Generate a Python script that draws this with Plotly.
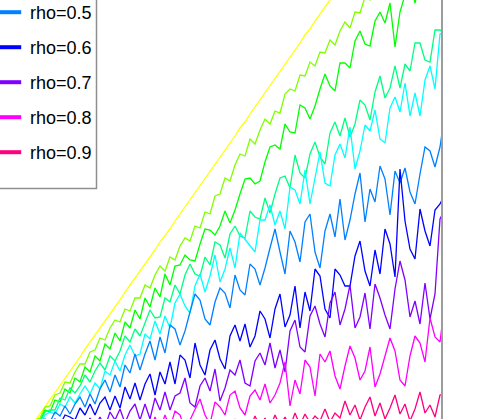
"""Correlated random walks for rho = 0.0 ... 0.9 (cropped view, Plotly)."""

import plotly.graph_objects as go

# Step index shared by every walk (one point per step).
STEPS = list(range(84))

RHO = ["rho=0", "rho=0.1", "rho=0.2", "rho=0.3", "rho=0.4",
       "rho=0.5", "rho=0.6", "rho=0.7", "rho=0.8", "rho=0.9"]

# hsv colormap, one colour per rho
COLOURS = ["#ffff00", "#80ff00", "#00ff00", "#00ff80", "#00ffff",
           "#0080ff", "#0000ff", "#8000ff", "#ff00ff", "#ff0080"]

# Walk heights, one list per rho.
WALK_00 = [-9, -2, 6, 13, 19, 27, 34, 41, 48, 55, 62, 70, 77, 83, 91, 98, 105,
           112, 119, 127, 134, 140, 148, 155, 162, 169, 177, 183, 190, 198, 205,
           212, 219, 226, 233, 241, 248, 254, 262, 269, 276, 283, 291, 297, 305,
           312, 319, 326, 333, 340, 348, 355, 362, 369, 376, 384, 390, 398, 405,
           412, 419, 426, 433]
WALK_01 = [-8, -1, 1, 12, 13, 24, 26, 37, 36, 47, 55, 55, 67, 69, 81, 79, 91, 99,
           97, 110, 108, 121, 121, 134, 131, 144, 153, 148, 162, 159, 173, 181,
           178, 193, 191, 207, 205, 223, 225, 241, 238, 254, 265, 263, 280, 275,
           289, 300, 295, 308, 306, 325, 330, 328, 344, 343, 357, 353, 367, 366,
           379, 374, 388, 397, 391, 407, 406, 422, 419, 435, 436, 442]
WALK_02 = [-10, -3, -2, 9, 7, 19, 17, 30, 26, 41, 37, 52, 47, 63, 58, 75, 70, 86,
           78, 97, 91, 109, 100, 121, 112, 131, 122, 145, 134, 153, 154, 164, 159,
           158, 175, 190, 189, 184, 193, 208, 196, 209, 225, 240, 241, 235, 238,
           257, 272, 274, 270, 295, 287, 286, 314, 311, 300, 313, 330, 345, 333,
           328, 356, 356, 351, 378, 388, 375, 373, 398, 407, 396, 416, 372, 407,
           424, 437, 416, 436]
WALK_03 = [-10, -4, -3, 7, 9, 9, 21, 19, 31, 26, 33, 44, 37, 48, 56, 49, 63, 58,
           68, 83, 77, 90, 83, 97, 109, 101, 102, 121, 117, 134, 125, 144, 155,
           145, 143, 162, 154, 177, 174, 161, 185, 193, 183, 181, 208, 202, 200,
           221, 206, 225, 241, 243, 231, 264, 246, 241, 265, 277, 262, 255, 286,
           297, 283, 301, 282, 295, 319, 314, 299, 327, 343, 321, 331, 353, 331,
           355, 348, 376, 376, 359, 357, 389, 389, 385]
WALK_04 = [-12, -6, -6, 4, 7, 5, 15, 12, 22, 16, 25, 33, 25, 36, 30, 48, 44, 58,
           48, 64, 74, 63, 65, 85, 80, 98, 85, 103, 91, 116, 125, 113, 106, 133,
           145, 127, 143, 164, 137, 150, 171, 151, 186, 180, 173, 167, 199, 199,
           214, 194, 208, 190, 232, 229, 215, 249, 215, 243, 267, 236, 233, 264,
           275, 261, 292, 250, 268, 294, 288, 309, 280, 276, 311, 322, 307, 336,
           303, 326, 303, 339, 353, 330, 385, 388]
WALK_05 = [-14, -8, -9, 0, -3, 7, 3, 13, 5, 15, 22, 12, 25, 15, 30, 39, 27, 44,
           32, 54, 46, 65, 49, 65, 78, 59, 82, 66, 94, 90, 74, 88, 107, 125, 119,
           100, 94, 117, 131, 126, 111, 144, 129, 124, 155, 150, 134, 151, 171,
           190, 167, 145, 188, 177, 157, 197, 205, 167, 151, 188, 205, 182, 220,
           179, 199, 225, 246, 197, 230, 217, 253, 240, 204, 248, 236, 251, 227,
           215, 245, 272, 268, 252, 272, 306]
WALK_06 = [-16, -12, -13, -6, -7, 0, -6, 4, 2, -1, 11, 4, 15, 4, 16, 22, 9, 23,
           11, 32, 20, 36, 19, 35, 45, 24, 47, 35, 57, 35, 64, 59, 41, 76, 54, 44,
           69, 79, 60, 50, 83, 94, 78, 95, 72, 83, 108, 100, 81, 110, 125, 92,
           104, 133, 91, 127, 108, 150, 143, 110, 101, 150, 144, 133, 133, 163,
           178, 148, 133, 169, 145, 190, 175, 142, 250, 198, 170, 160, 210, 188,
           173, 209, 215, 225]
WALK_07 = [-18, -15, -16, -11, -14, -8, -12, -6, -12, -6, -2, -10, 1, -7, 2, -8,
           7, -1, 10, -4, 8, 15, -1, 15, 0, 21, 9, 27, 9, 23, 26, 41, 16, 12, 33,
           41, 28, 50, 18, 31, 49, 44, 59, 36, 33, 58, 66, 54, 76, 51, 69, 47, 88,
           99, 72, 67, 103, 113, 95, 82, 116, 127, 94, 110, 134, 91, 102, 126, 90,
           135, 121, 104, 90, 130, 158, 139, 102, 118, 95, 136, 100, 125, 200, 210]
WALK_08 = [-20, -18, -21, -17, -20, -16, -20, -15, -19, -13, -18, -12, -19, -11,
           -17, -9, -18, -8, -16, -4, -15, -3, -14, -1, -12, 2, -11, 4, -9, 8, 4,
           -10, -1, 10, 20, 4, -5, 17, 12, 4, 24, 28, 11, 4, 23, 29, 19, 35, 16,
           24, 36, 57, 13, 39, 25, 59, 52, 23, 65, 57, 68, 43, 30, 53, 73, 61, 39,
           48, 72, 32, 45, 63, 81, 68, 39, 33, 63, 83, 76, 57, 101, 82, 77, 118]
WALK_09 = [-25, -23, -26, -22, -25, -21, -24, -20, -23, -19, -23, -18, -22, -17,
           -21, -16, -20, -15, -19, -13, -18, -12, -17, -11, -16, -10, -15, -8,
           -14, -9, -13, -6, -12, -4, -11, -5, -12, -2, -10, -4, -11, 0, -9, -2,
           -10, 3, -8, 1, -9, 4, -7, 2, -8, 6, -6, 5, -4, 3, -2, 10, -3, 6, 1, 18,
           4, 14, -1, 12, 22, 3, 16, 0, 11, 24, 5, 15, -2, 10, 27, 6, 14, 2, 24, 26]

WALKS = [WALK_00, WALK_01, WALK_02, WALK_03, WALK_04,
         WALK_05, WALK_06, WALK_07, WALK_08, WALK_09]

FONT = "Liberation Sans Narrow, Liberation Sans, Arial, sans-serif"
PLOT_W = 441  # px width of the plot area inside the 479 px page


def build_figure() -> go.Figure:
    fig = go.Figure()

    for name, colour, walk in zip(RHO, COLOURS, WALKS):
        fig.add_trace(go.Scatter(
            x=STEPS[:len(walk)], y=walk, mode="lines", name=name,
            line=dict(color=colour, width=1.3), showlegend=False,
            legendgroup=name,
        ))

    # legend entries: short thick swatches like the MATLAB legend
    for name, colour in zip(RHO, COLOURS):
        fig.add_trace(go.Scatter(
            x=[None], y=[None], mode="markers", name=name, legendgroup=name,
            marker=dict(symbol="line-ew", size=16,
                        line=dict(color=colour, width=4)),
        ))

    # legend frame (left and top run off the page)
    fig.add_shape(
        type="rect", xref="paper", yref="paper",
        x0=-0.2, x1=96.5 / PLOT_W, y0=1 - 188.5 / 419, y1=1.6,
        line=dict(color="#8f8f8f", width=1.5), fillcolor="white", layer="above",
    )

    fig.update_layout(
        width=479, height=419,
        margin=dict(l=0, r=479 - PLOT_W, t=0, b=0, autoexpand=False),
        paper_bgcolor="white", plot_bgcolor="white",
        font=dict(family=FONT, color="black"),
        xaxis=dict(range=[-6, 82.2], visible=False),
        yaxis=dict(range=[0, 419], side="right", showline=True,
                   linecolor="#9c9c9c", linewidth=2, showgrid=False,
                   zeroline=False, showticklabels=False, ticks=""),
        showlegend=True,
        legend=dict(
            x=-10 / PLOT_W, xanchor="left", y=1 - 171 / 419, yanchor="bottom",
            bgcolor="rgba(0,0,0,0)", borderwidth=0, tracegroupgap=8.6,
            maxheight=1000,
            font=dict(family=FONT, size=18, color="black"),
        ),
    )
    return fig


if __name__ == "__main__":
    build_figure().write_html(
        "out.html", config={"displayModeBar": False},
        post_script="document.body.style.margin = '0';")
